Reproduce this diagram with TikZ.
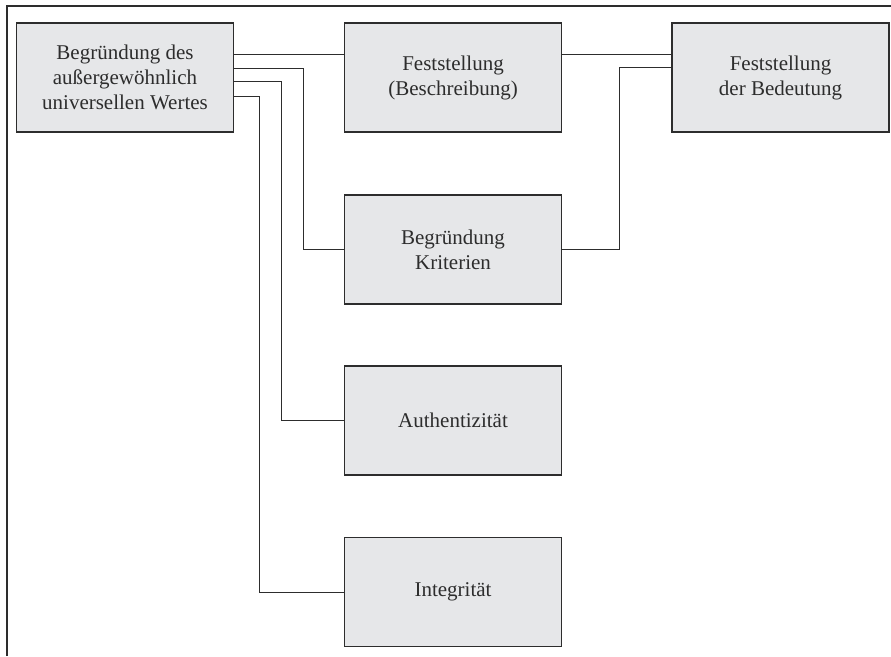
\documentclass[tikz,border=0pt]{standalone}
\usepackage{fontspec}
\setmainfont{Liberation Serif}
\definecolor{boxfill}{RGB}{230,231,233}
\definecolor{ink}{RGB}{45,45,45}
\tikzset{
  box/.style={draw=ink, line width=1.3pt, fill=boxfill, minimum width=217pt, minimum height=109pt,
    align=center, inner sep=0pt, text=ink, font=\fontsize{21}{25}\selectfont},
  link/.style={draw=ink, line width=1pt},
  frame/.style={draw=ink, line width=1.5pt}
}
\begin{document}
\begin{tikzpicture}[x=1pt,y=-1pt]
\useasboundingbox (0,0) rectangle (891,656);
\draw[frame] (7,656) -- (7,6) -- (891,6);
\node[box] (A) at (125,77.5) {Begründung des\\außergewöhnlich\\universellen Wertes};
\node[box] (B) at (453,77.5) {Feststellung\\(Beschreibung)};
\node[box] (C) at (780.5,77.5) {Feststellung\\der Bedeutung};
\node[box] (K) at (453,249.5) {Begründung\\Kriterien};
\node[box] (U) at (453,420.5) {Authentizität};
\node[box] (I) at (453,592) {Integrität};
\draw[link] (A.east |- 0,54) -- (B.west |- 0,54);
\draw[link] (B.east |- 0,54) -- (C.west |- 0,54);
\draw[link] (A.east |- 0,68) -| ([xshift=-40pt]K.west) -- (K.west);
\draw[link] (A.east |- 0,81) -| ([xshift=-62pt]U.west) -- (U.west);
\draw[link] (A.east |- 0,96) -| ([xshift=-84pt]I.west) -- (I.west);
\draw[link] (K.east) -| (619,67) -- (C.west |- 0,67);
\end{tikzpicture}
\end{document}
